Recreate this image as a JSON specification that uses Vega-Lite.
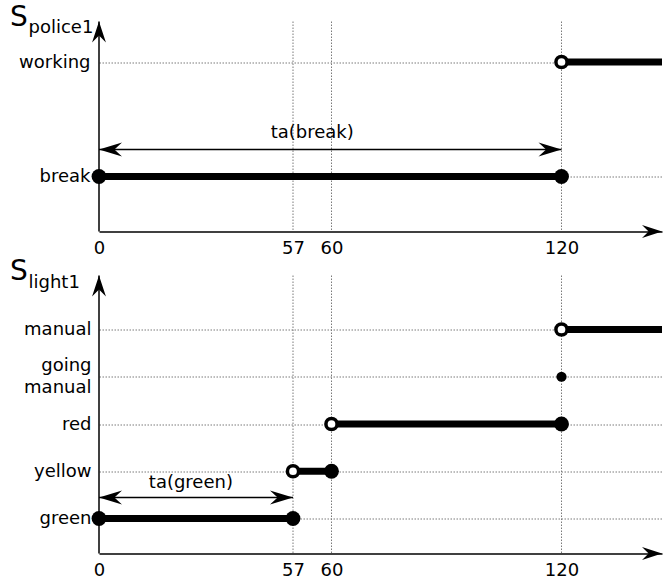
{
  "$schema": "https://vega.github.io/schema/vega-lite/v6.json",
  "padding": {"left": 10, "top": 3.5, "right": 0, "bottom": 0},
  "background": "white",
  "config": {
    "font": "DejaVu Sans",
    "view": {"stroke": null},
    "axis": {
      "labelFont": "DejaVu Sans",
      "labelFontSize": 18,
      "labelColor": "black",
      "domainColor": "black",
      "domainWidth": 1.5,
      "ticks": false,
      "tickSize": 0,
      "gridColor": "#7a7a7a",
      "gridDash": [1.5, 1.5],
      "gridWidth": 1,
      "title": null
    }
  },
  "datasets": {
    "times": [{"t": 57}, {"t": 60}, {"t": 120}],
    "segments": [
      {"signal": "police1", "state": "break", "start": 0, "end": 120},
      {"signal": "police1", "state": "working", "start": 120, "end": 146},
      {"signal": "light1", "state": "green", "start": 0, "end": 57},
      {"signal": "light1", "state": "yellow", "start": 57, "end": 60},
      {"signal": "light1", "state": "red", "start": 60, "end": 120},
      {"signal": "light1", "state": "manual", "start": 120, "end": 146}
    ],
    "points": [
      {"signal": "police1", "state": "break", "t": 0, "kind": "closed"},
      {"signal": "police1", "state": "break", "t": 120, "kind": "closed"},
      {"signal": "police1", "state": "working", "t": 120, "kind": "open"},
      {"signal": "light1", "state": "green", "t": 0, "kind": "closed"},
      {"signal": "light1", "state": "green", "t": 57, "kind": "closed"},
      {"signal": "light1", "state": "yellow", "t": 57, "kind": "open"},
      {"signal": "light1", "state": "yellow", "t": 60, "kind": "closed"},
      {"signal": "light1", "state": "red", "t": 60, "kind": "open"},
      {"signal": "light1", "state": "red", "t": 120, "kind": "closed"},
      {"signal": "light1", "state": "going manual", "t": 120, "kind": "dot"},
      {"signal": "light1", "state": "manual", "t": 120, "kind": "open"}
    ],
    "spans": [
      {"signal": "police1", "state": "break", "start": 0, "end": 120, "label": "ta(break)", "label_t": 58.5},
      {"signal": "light1", "state": "green", "start": 0, "end": 57, "label": "ta(green)", "label_t": 27}
    ]
  },
  "spacing": 0,
  "vconcat": [
    {
      "width": 563,
      "height": 210,
      "layer": [
        {
          "data": {"name": "times"},
          "mark": {"type": "rule", "color": "#7a7a7a", "strokeWidth": 1, "strokeDash": [1.5, 1.5]},
          "encoding": {"x": {"field": "t", "type": "quantitative"}}
        },
        {
          "data": {"name": "segments"},
          "transform": [{"filter": "datum.signal == 'police1'"}],
          "mark": {"type": "rule", "color": "black", "strokeWidth": 7},
          "encoding": {
            "x": {
              "field": "start", "type": "quantitative",
              "scale": {"type": "linear", "domain": [0, 57, 60, 120, 146], "range": [0, 194, 232.5, 462.5, 563], "nice": false, "zero": false},
              "axis": {
                "values": [0, 57, 60, 120], "grid": false, "domain": true,
                "labelPadding": 8, "labelFlush": false, "labelOverlap": false
              }
            },
            "x2": {"field": "end"},
            "y": {
              "field": "state", "type": "nominal",
              "scale": {"type": "point", "domain": ["working", "break"], "range": [40.5, 155], "padding": 0},
              "axis": {"grid": true, "domain": false, "labelPadding": 9}
            }
          }
        },
        {
          "data": {"values": [{}]},
          "mark": {"type": "rule", "color": "black", "strokeWidth": 1.5},
          "encoding": {"x": {"datum": 0, "type": "quantitative"}}
        },
        {
          "data": {"values": [{}]},
          "mark": {"type": "point", "shape": "M 0 0 L -0.33 1 L 0 0.67 L 0.33 1 Z", "filled": true, "color": "black", "opacity": 1, "size": 1764, "strokeWidth": 0},
          "encoding": {"x": {"value": 0}, "y": {"value": 0}}
        },
        {
          "data": {"values": [{}]},
          "mark": {"type": "point", "shape": "M 0 0 L -1 -0.32 L -0.67 0 L -1 0.32 Z", "filled": true, "color": "black", "opacity": 1, "size": 1600, "strokeWidth": 0},
          "encoding": {"x": {"value": "width"}, "y": {"value": "height"}}
        },
        {
          "data": {"name": "spans"},
          "transform": [{"filter": "datum.signal == 'police1'"}],
          "mark": {"type": "rule", "color": "black", "strokeWidth": 1.5, "yOffset": -27},
          "encoding": {
            "x": {"field": "start", "type": "quantitative"},
            "x2": {"field": "end"},
            "y": {"field": "state", "type": "nominal"}
          }
        },
        {
          "data": {"name": "spans"},
          "transform": [{"filter": "datum.signal == 'police1'"}],
          "mark": {"type": "point", "shape": "M 0 0 L 1 -0.3 L 0.67 0 L 1 0.3 Z", "filled": true, "color": "black", "opacity": 1, "size": 2116, "strokeWidth": 0, "yOffset": -27},
          "encoding": {
            "x": {"field": "start", "type": "quantitative"},
            "y": {"field": "state", "type": "nominal"}
          }
        },
        {
          "data": {"name": "spans"},
          "transform": [{"filter": "datum.signal == 'police1'"}],
          "mark": {"type": "point", "shape": "M 0 0 L -1 -0.3 L -0.67 0 L -1 0.3 Z", "filled": true, "color": "black", "opacity": 1, "size": 2116, "strokeWidth": 0, "yOffset": -27},
          "encoding": {
            "x": {"field": "end", "type": "quantitative"},
            "y": {"field": "state", "type": "nominal"}
          }
        },
        {
          "data": {"name": "spans"},
          "transform": [{"filter": "datum.signal == 'police1'"}],
          "mark": {"type": "text", "fontSize": 18, "color": "black", "baseline": "alphabetic", "align": "center", "dy": -39},
          "encoding": {
            "x": {"field": "label_t", "type": "quantitative"},
            "y": {"field": "state", "type": "nominal"},
            "text": {"field": "label"}
          }
        },
        {
          "data": {"name": "points"},
          "transform": [{"filter": "datum.signal == 'police1' && datum.kind == 'closed'"}],
          "mark": {"type": "circle", "color": "black", "opacity": 1, "size": 220},
          "encoding": {
            "x": {"field": "t", "type": "quantitative"},
            "y": {"field": "state", "type": "nominal"}
          }
        },
        {
          "data": {"name": "points"},
          "transform": [{"filter": "datum.signal == 'police1' && datum.kind == 'open'"}],
          "mark": {"type": "circle", "fill": "white", "stroke": "black", "strokeWidth": 3.5, "opacity": 1, "size": 125},
          "encoding": {
            "x": {"field": "t", "type": "quantitative"},
            "y": {"field": "state", "type": "nominal"}
          }
        },
        {
          "data": {"values": [{}]},
          "mark": {"type": "text", "text": "S", "fontSize": 28, "color": "black", "align": "left", "baseline": "alphabetic", "dx": -89, "dy": 4},
          "encoding": {"x": {"value": 0}, "y": {"value": 0}}
        },
        {
          "data": {"values": [{}]},
          "mark": {"type": "text", "text": "police1", "fontSize": 18, "color": "black", "align": "left", "baseline": "alphabetic", "dx": -70.5, "dy": 11},
          "encoding": {"x": {"value": 0}, "y": {"value": 0}}
        }
      ]
    },
    {
      "width": 563,
      "height": 278,
      "layer": [
        {
          "data": {"name": "times"},
          "mark": {"type": "rule", "color": "#7a7a7a", "strokeWidth": 1, "strokeDash": [1.5, 1.5]},
          "encoding": {"x": {"field": "t", "type": "quantitative"}}
        },
        {
          "data": {"name": "segments"},
          "transform": [{"filter": "datum.signal == 'light1'"}],
          "mark": {"type": "rule", "color": "black", "strokeWidth": 7},
          "encoding": {
            "x": {
              "field": "start", "type": "quantitative",
              "scale": {"type": "linear", "domain": [0, 57, 60, 120, 146], "range": [0, 194, 232.5, 462.5, 563], "nice": false, "zero": false},
              "axis": {
                "values": [0, 57, 60, 120], "grid": false, "domain": true,
                "labelPadding": 8, "labelFlush": false, "labelOverlap": false
              }
            },
            "x2": {"field": "end"},
            "y": {
              "field": "state", "type": "nominal",
              "scale": {"type": "point", "domain": ["manual", "going manual", "red", "yellow", "green"], "range": [54, 243], "padding": 0},
              "axis": {
                "grid": true, "domain": false, "labelPadding": 8, "labelLineHeight": 22,
                "labelOffset": {"condition": {"test": "datum.value == 'going manual'", "value": -11}, "value": 0},
                "labelExpr": "datum.label == 'going manual' ? ['going', 'manual'] : datum.label"
              }
            }
          }
        },
        {
          "data": {"values": [{}]},
          "mark": {"type": "rule", "color": "black", "strokeWidth": 1.5},
          "encoding": {"x": {"datum": 0, "type": "quantitative"}}
        },
        {
          "data": {"values": [{}]},
          "mark": {"type": "point", "shape": "M 0 0 L -0.33 1 L 0 0.67 L 0.33 1 Z", "filled": true, "color": "black", "opacity": 1, "size": 1764, "strokeWidth": 0},
          "encoding": {"x": {"value": 0}, "y": {"value": 0}}
        },
        {
          "data": {"values": [{}]},
          "mark": {"type": "point", "shape": "M 0 0 L -1 -0.32 L -0.67 0 L -1 0.32 Z", "filled": true, "color": "black", "opacity": 1, "size": 1600, "strokeWidth": 0},
          "encoding": {"x": {"value": "width"}, "y": {"value": "height"}}
        },
        {
          "data": {"name": "spans"},
          "transform": [{"filter": "datum.signal == 'light1'"}],
          "mark": {"type": "rule", "color": "black", "strokeWidth": 1.5, "yOffset": -21},
          "encoding": {
            "x": {"field": "start", "type": "quantitative"},
            "x2": {"field": "end"},
            "y": {"field": "state", "type": "nominal"}
          }
        },
        {
          "data": {"name": "spans"},
          "transform": [{"filter": "datum.signal == 'light1'"}],
          "mark": {"type": "point", "shape": "M 0 0 L 1 -0.3 L 0.67 0 L 1 0.3 Z", "filled": true, "color": "black", "opacity": 1, "size": 2116, "strokeWidth": 0, "yOffset": -21},
          "encoding": {
            "x": {"field": "start", "type": "quantitative"},
            "y": {"field": "state", "type": "nominal"}
          }
        },
        {
          "data": {"name": "spans"},
          "transform": [{"filter": "datum.signal == 'light1'"}],
          "mark": {"type": "point", "shape": "M 0 0 L -1 -0.3 L -0.67 0 L -1 0.3 Z", "filled": true, "color": "black", "opacity": 1, "size": 2116, "strokeWidth": 0, "yOffset": -21},
          "encoding": {
            "x": {"field": "end", "type": "quantitative"},
            "y": {"field": "state", "type": "nominal"}
          }
        },
        {
          "data": {"name": "spans"},
          "transform": [{"filter": "datum.signal == 'light1'"}],
          "mark": {"type": "text", "fontSize": 18, "color": "black", "baseline": "alphabetic", "align": "center", "dy": -30.5},
          "encoding": {
            "x": {"field": "label_t", "type": "quantitative"},
            "y": {"field": "state", "type": "nominal"},
            "text": {"field": "label"}
          }
        },
        {
          "data": {"name": "points"},
          "transform": [{"filter": "datum.signal == 'light1' && datum.kind == 'closed'"}],
          "mark": {"type": "circle", "color": "black", "opacity": 1, "size": 220},
          "encoding": {
            "x": {"field": "t", "type": "quantitative"},
            "y": {"field": "state", "type": "nominal"}
          }
        },
        {
          "data": {"name": "points"},
          "transform": [{"filter": "datum.signal == 'light1' && datum.kind == 'dot'"}],
          "mark": {"type": "circle", "color": "black", "opacity": 1, "size": 105},
          "encoding": {
            "x": {"field": "t", "type": "quantitative"},
            "y": {"field": "state", "type": "nominal"}
          }
        },
        {
          "data": {"name": "points"},
          "transform": [{"filter": "datum.signal == 'light1' && datum.kind == 'open'"}],
          "mark": {"type": "circle", "fill": "white", "stroke": "black", "strokeWidth": 3.5, "opacity": 1, "size": 125},
          "encoding": {
            "x": {"field": "t", "type": "quantitative"},
            "y": {"field": "state", "type": "nominal"}
          }
        },
        {
          "data": {"values": [{}]},
          "mark": {"type": "text", "text": "S", "fontSize": 28, "color": "black", "align": "left", "baseline": "alphabetic", "dx": -89, "dy": 4},
          "encoding": {"x": {"value": 0}, "y": {"value": 0}}
        },
        {
          "data": {"values": [{}]},
          "mark": {"type": "text", "text": "light1", "fontSize": 18, "color": "black", "align": "left", "baseline": "alphabetic", "dx": -70.5, "dy": 12},
          "encoding": {"x": {"value": 0}, "y": {"value": 0}}
        }
      ]
    }
  ]
}
